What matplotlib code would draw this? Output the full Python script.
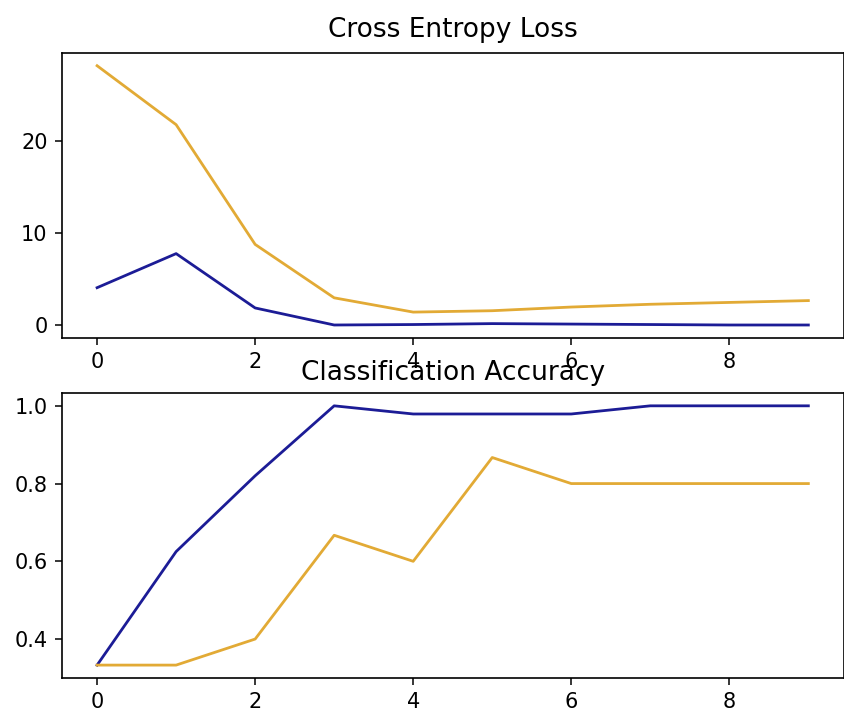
import matplotlib
matplotlib.use('Agg')
import matplotlib.pyplot as plt

epochs = list(range(10))

# loss per epoch
train_loss = [4.1, 7.8, 1.9, 0.05, 0.1, 0.2, 0.15, 0.1, 0.05, 0.05]
test_loss = [28.2, 21.8, 8.8, 3.0, 1.45, 1.6, 2.0, 2.3, 2.5, 2.7]

# accuracy per epoch
train_acc = [0.333, 0.625, 0.82, 1.0, 0.979, 0.979, 0.979, 1.0, 1.0, 1.0]
test_acc = [0.333, 0.333, 0.4, 0.667, 0.6, 0.867, 0.8, 0.8, 0.8, 0.8]

blue = '#1c1c96'
orange = '#e2aa35'

plt.rcParams['font.family'] = ['DejaVu Sans']

fig = plt.figure(figsize=(8.44, 7.13), dpi=100)


def style(ax):
    ax.set_xticks([0, 2, 4, 6, 8])
    ax.tick_params(labelsize=15, length=5, width=1.1, pad=5)
    for s in ax.spines.values():
        s.set_linewidth(1.2)


ax1 = fig.add_axes([0.0729, 0.526, 0.927, 0.400])
ax1.plot(epochs, train_loss, color=blue, linewidth=2.0, label='train')
ax1.plot(epochs, test_loss, color=orange, linewidth=2.0, label='test')
ax1.set_title('Cross Entropy Loss', fontsize=19, pad=11)
ax1.set_yticks([0, 10, 20])
style(ax1)

ax2 = fig.add_axes([0.0729, 0.049, 0.927, 0.400])
ax2.plot(epochs, train_acc, color=blue, linewidth=2.0, label='train')
ax2.plot(epochs, test_acc, color=orange, linewidth=2.0, label='test')
ax2.set_title('Classification Accuracy', fontsize=19, pad=9.4)
ax2.set_yticks([0.4, 0.6, 0.8, 1.0])
style(ax2)

fig.savefig('out.png', dpi=100)
